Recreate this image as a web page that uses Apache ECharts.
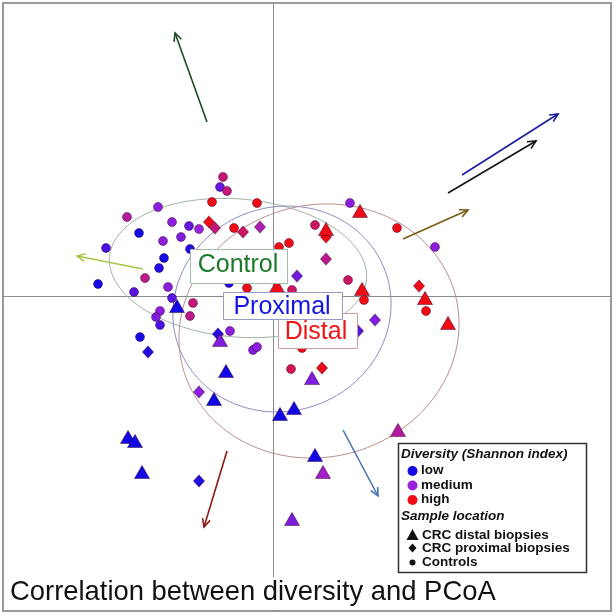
<!DOCTYPE html>
<html><head><meta charset="utf-8">
<script src="https://cdn.jsdelivr.net/npm/echarts/dist/echarts.min.js"></script>
<style>html,body{margin:0;padding:0;background:#fff}#c{width:616px;height:616px}</style>
</head><body><div id="c"></div>
<script>
// PCoA coordinates [PC1, PC2, diversity (0 = low, 0.5 = medium, 1 = high)]
const controls = [
  [-50,119,0.75],[-53,109,0.3],[-46,105,0.75],[-61,94,1.0],[-115,89,0.45],[-146,79,0.65],
  [-101,74,0.45],[-84,70,0.3],[-74,67,0.5],[-39,68,1.0],[-134,63,0.0],[-110,55,0.45],
  [-92,59,0.4],[-83,47,0.05],[-167,48,0.2],[-109,38,0.0],[-114,28,0.05],[-128,18,0.7],
  [-175,12,0.0],[-139,4,0.25],[-105,9,0.45],[-101,-2,0.25],[-80,-7,0.75],[-113,-15,0.45],
  [-117,-21,0.4],[-83,-20,0.7],[-113,-29,0.2],[-44,13,0.05],[-26,8,1.0],[19,6,0.8],
  [-16,93,1.0],[77,93,0.45],[124,68,1.0],[42,71,0.8],[16,53,1.0],[6,49,1.0],
  [75,16,0.8],[91,-4,1.0],[162,49,0.45],[153,-15,1.0],[29,-52,1.0],[18,-73,0.85],
  [-133,-41,0.0],[-43,-35,0.45],[-20,-54,0.4],[-16,-51,0.45]
];
const proximal = [
  [-64,74,1.0],[-58,68,0.75],[-30,64,0.8],[-13,69,0.6],[24,20,0.35],[53,59,1.0],
  [53,37,0.7],[146,10,1.0],[102,-24,0.4],[85,-35,0.25],[49,-72,1.0],[-55,-38,0.05],
  [-125,-56,0.05],[-74,-96,0.45],[-74,-185,0.05]
];
const distal = [
  [-96,-10,0.0],[4,10,1.0],[87,85,1.0],[53,67,1.0],[89,7,1.0],[152,-2,1.0],[175,-27,1.0],
  [39,-82,0.4],[-53,-44,0.4],[-47,-75,0.0],[-59,-103,0.0],[7,-118,0.0],[21,-112,0.0],
  [-145,-141,0.0],[-138,-145,0.0],[-131,-176,0.0],[125,-134,0.65],[42,-159,0.0],
  [50,-176,0.55],[19,-223,0.4]
];
// group ellipses [centre PC1, centre PC2, semi-axis a, semi-axis b, rotation deg]
const ellipses = [[-35,28,129,69,-5],[9,-13,110,102,20],[46,-35,141,126,15]];
const ellipseNames = ['Control','Proximal','Distal'];
// fitted vectors [from PC1, from PC2, to PC1, to PC2]
const arrows = [
  [-66,174,-98,263],[-130,27,-196,40],[189,121,285,182],[175,103,263,155],
  [130,57,195,86],[-46,-155,-69,-231],[70,-134,105,-200]
];
const legendLevels = ['low','medium','high'];
const legendLocations = ['CRC distal biopsies','CRC proximal biopsies','Controls'];
const titleText = 'Correlation between diversity and PCoA';

const ellipseColors = ['#9db5a2','#8c8cc0','#b78f8f'];
const arrowColors = ['#1f4a22','#a6c84a','#1c1ca0','#141414','#7a5c14','#8b1a1a','#4a74b4'];
const levelColors = ['#1208e6','#9a22dc','#f00c14'];
const FF = 'Liberation Sans, Arial, sans-serif';

const chart = echarts.init(document.getElementById('c'), null, {renderer:'canvas'});

function ellipseItem(params, api){
  const cx=api.value(0), cy=api.value(1), rx=api.value(2), ry=api.value(3), a=api.value(4)*Math.PI/180;
  const pts=[];
  for(let i=0;i<=160;i++){
    const t=i/160*2*Math.PI;
    const ex=rx*Math.cos(t), ey=ry*Math.sin(t);
    pts.push(api.coord([cx+ex*Math.cos(a)-ey*Math.sin(a), cy+ex*Math.sin(a)+ey*Math.cos(a)]));
  }
  return {type:'polyline', shape:{points:pts}, silent:true,
    style:{stroke:ellipseColors[params.dataIndex], fill:null, lineWidth:1}};
}
function arrowItem(params, api){
  const p0=api.coord([api.value(0),api.value(1)]), p1=api.coord([api.value(2),api.value(3)]);
  const ang=Math.atan2(p1[1]-p0[1], p1[0]-p0[0]);
  const L=9, w=0.45, c=arrowColors[params.dataIndex];
  const h1=[p1[0]-L*Math.cos(ang-w), p1[1]-L*Math.sin(ang-w)];
  const h2=[p1[0]-L*Math.cos(ang+w), p1[1]-L*Math.sin(ang+w)];
  return {type:'group', silent:true, children:[
    {type:'line', shape:{x1:p0[0],y1:p0[1],x2:p1[0],y2:p1[1]}, style:{stroke:c,lineWidth:1.6}},
    {type:'polyline', shape:{points:[h1,p1,h2]}, style:{stroke:c,fill:null,lineWidth:1.6}}
  ]};
}

const pointStyle = {borderColor:'rgba(50,0,40,0.45)', borderWidth:1, opacity:1};

const g = [];
function txt(x,y,text,opt){
  g.push({type:'text', x:x, y:y, z:100, silent:true, style:Object.assign({text:text, fontFamily:FF,
    textAlign:'left', textVerticalAlign:'middle', verticalAlign:'middle', fill:'#111'}, opt)});
}
function rect(x,y,w,h,stroke,lw){
  g.push({type:'rect', z:100, silent:true, shape:{x:x,y:y,width:w,height:h}, style:{fill:'#fff', stroke:stroke, lineWidth:lw||1}});
}
// group labels
rect(190.5,249.5,97,34,'#a5bca8');
txt(238,265,ellipseNames[0],{fontSize:25,fill:'#1d7a28',textAlign:'center'});
rect(278.5,313.5,79,35,'#c9a0a0');
txt(316,332,ellipseNames[2],{fontSize:25,fill:'#ee1515',textAlign:'center'});
rect(223.5,292.5,119,27,'#9a9ac8');
txt(282,307,ellipseNames[1],{fontSize:25,fill:'#1414e6',textAlign:'center'});
// title
g.push({type:'rect', z:90, silent:true, shape:{x:4,y:577,width:500,height:33}, style:{fill:'#fff'}});
txt(10,592,titleText,{fontSize:27.4,fill:'#111'});
// legend
rect(398.5,443.5,188,129,'#333',1.5);
txt(401,454.5,'Diversity (Shannon index)',{fontSize:13.5,fontWeight:'bold',fontStyle:'italic'});
[470.5,485,499.5].forEach((y,i)=>{
  g.push({type:'circle', z:101, silent:true, shape:{cx:412.5,cy:y+0.5,r:5}, style:{fill:levelColors[i]}});
  txt(421,y,legendLevels[i],{fontSize:13.5,fontWeight:'bold'});
});
txt(401,516.5,'Sample location',{fontSize:13.5,fontWeight:'bold',fontStyle:'italic'});
g.push({type:'polygon', z:101, silent:true, shape:{points:[[412.5,529],[418.5,540],[406.5,540]]}, style:{fill:'#111'}});
g.push({type:'polygon', z:101, silent:true, shape:{points:[[412.5,543.5],[416.5,548],[412.5,552.5],[408.5,548]]}, style:{fill:'#111'}});
g.push({type:'circle', z:101, silent:true, shape:{cx:412.5,cy:562.5,r:3}, style:{fill:'#111'}});
[535,548.5,562].forEach((y,i)=>txt(422,y,legendLocations[i],{fontSize:13.5,fontWeight:'bold'}));

chart.setOption({
  animation:false,
  backgroundColor:'#fff',
  grid:{left:3, top:3, right:5, bottom:5, show:true, borderColor:'#9a9a9a', borderWidth:2, backgroundColor:'#fff'},
  xAxis:{type:'value', min:-270, max:338, axisLine:{onZero:true, lineStyle:{color:'#8a8a8a', width:1}},
    axisTick:{show:false}, axisLabel:{show:false}, splitLine:{show:false}},
  yAxis:{type:'value', min:-315, max:293, axisLine:{onZero:true, lineStyle:{color:'#8a8a8a', width:1}},
    axisTick:{show:false}, axisLabel:{show:false}, splitLine:{show:false}},
  visualMap:{show:false, type:'continuous', dimension:2, min:0, max:1, seriesIndex:[2,3,4],
    inRange:{color:levelColors}},
  series:[
    {type:'custom', renderItem:ellipseItem, data:ellipses, z:1, silent:true, clip:false},
    {type:'custom', renderItem:arrowItem, data:arrows, z:2, silent:true, clip:false},
    {type:'scatter', name:'Controls', data:controls, symbol:'circle', symbolSize:9, itemStyle:pointStyle, z:3},
    {type:'scatter', name:'CRC proximal biopsies', data:proximal, symbol:'diamond', symbolSize:[11,12], itemStyle:pointStyle, z:3},
    {type:'scatter', name:'CRC distal biopsies', data:distal, symbol:'triangle', symbolSize:[15,13], itemStyle:pointStyle, z:3}
  ],
  graphic:{elements:g}
});
</script></body></html>
